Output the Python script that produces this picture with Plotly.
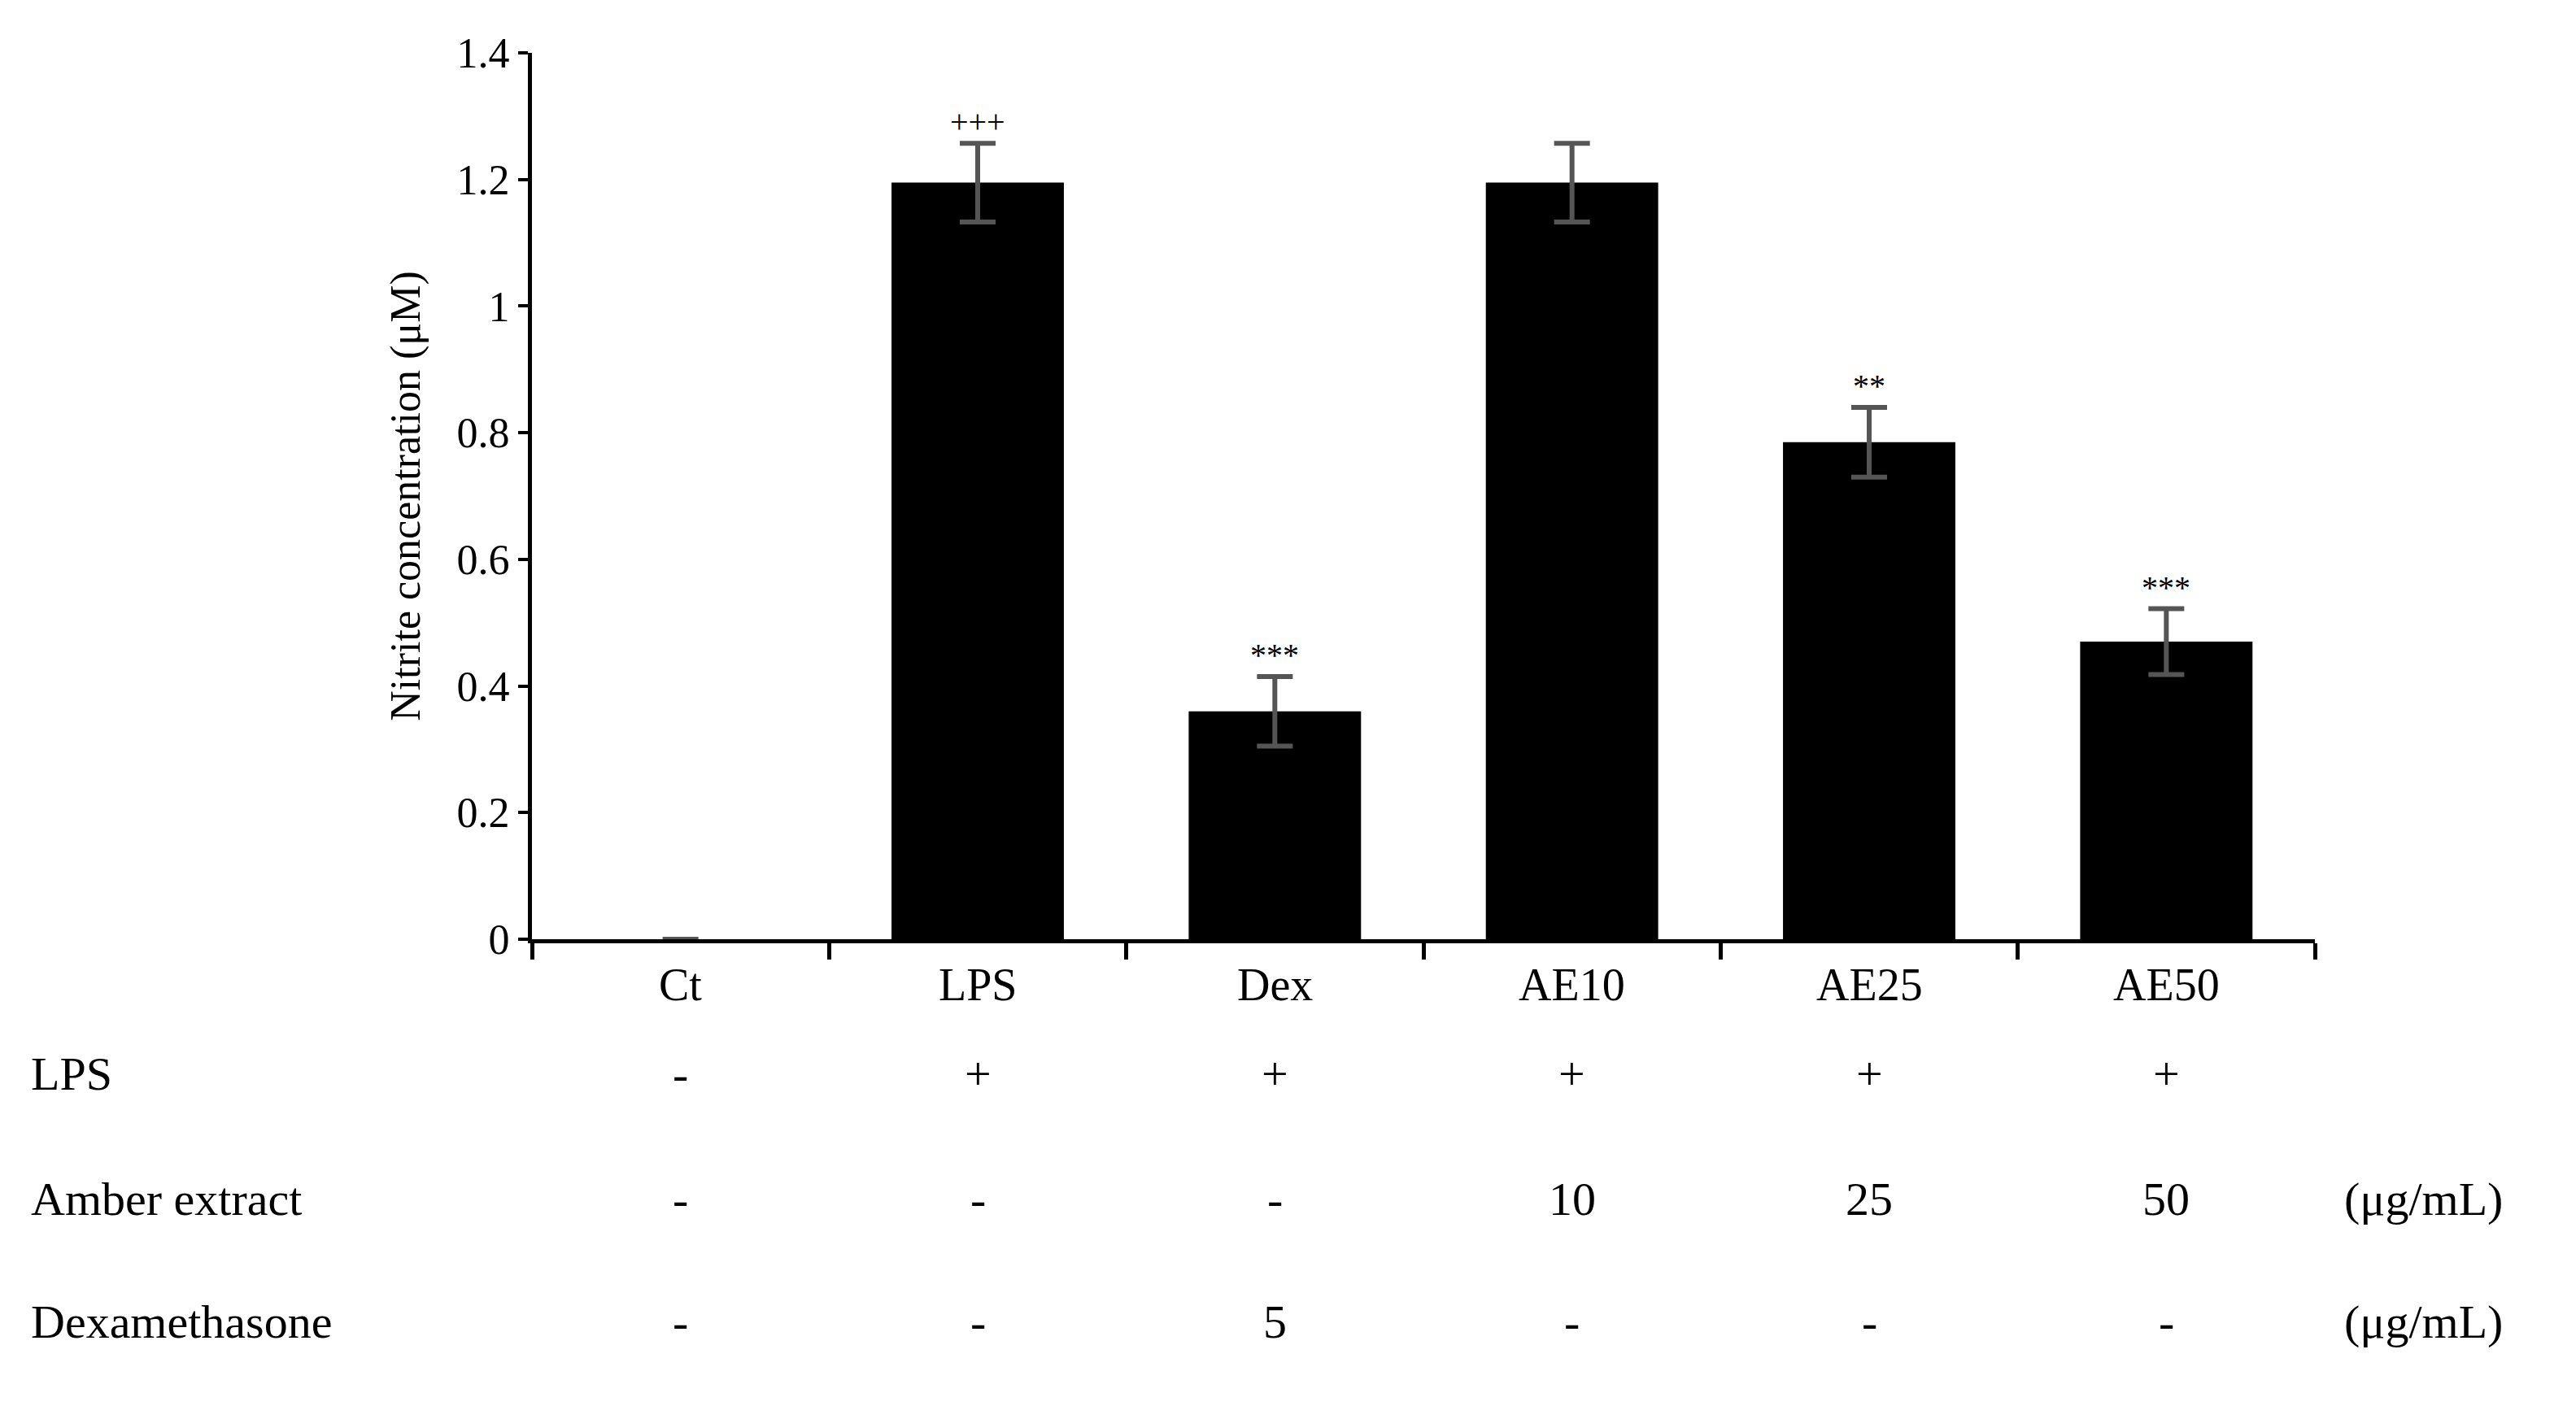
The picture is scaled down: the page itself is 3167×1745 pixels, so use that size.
import plotly.graph_objects as go

categories = ["Ct", "LPS", "Dex", "AE10", "AE25", "AE50"]
values = [0.0, 1.195, 0.36, 1.195, 0.785, 0.47]
errors = [0.0, 0.062, 0.055, 0.062, 0.055, 0.052]
sig = ["", "+++", "***", "", "**", "***"]
row_labels = ["LPS", "Amber extract", "Dexamethasone"]
row_lps = ["-", "+", "+", "+", "+", "+"]
row_amber = ["-", "-", "-", "10", "25", "50"]
row_dex = ["-", "-", "5", "-", "-", "-"]
units = ["", "(μg/mL)", "(μg/mL)"]

FONT = "Liberation Serif"
W, H = 3167, 1745
L, R, T, B = 646, 2838, 57, 1147

def py(Y):
    return (B - Y) / (B - T)

def px(X):
    return (X - L) / (R - L)

fig = go.Figure(go.Bar(
    x=categories, y=values, width=0.58, marker=dict(color="black", line=dict(width=0)),
    error_y=dict(type="data", array=errors, visible=True, color="#555555", thickness=6, width=22),
))

ann = []
for c, v, e, s in zip(categories, values, errors, sig):
    if s:
        ann.append(dict(x=c, y=v + e, xref="x", yref="y", text=s, showarrow=False,
                        yanchor="bottom", yshift=2, font=dict(family=FONT, size=40, color="black")))
    ann.append(dict(x=c, y=py(1236), xref="x", yref="paper", text=c, showarrow=False,
                    font=dict(family=FONT, size=56, color="black")))
for rowY, lab, vals, u in zip([1347, 1501, 1652], row_labels, [row_lps, row_amber, row_dex], units):
    ann.append(dict(x=px(28), y=py(rowY), xref="paper", yref="paper", text=lab, showarrow=False,
                    xanchor="left", font=dict(family=FONT, size=58, color="black")))
    for c, t in zip(categories, vals):
        ann.append(dict(x=c, y=py(rowY), xref="x", yref="paper", text=t, showarrow=False,
                        font=dict(family=FONT, size=58, color="black")))
    if u:
        ann.append(dict(x=px(2872), y=py(rowY), xref="paper", yref="paper", text=u, showarrow=False,
                        xanchor="left", font=dict(family=FONT, size=58, color="black")))

fig.update_layout(
    width=W, height=H, plot_bgcolor="white", paper_bgcolor="white",
    margin=dict(l=L, r=W - R, t=T, b=H - B, autoexpand=False),
    showlegend=False, annotations=ann,
    xaxis=dict(type="category", range=[-0.5, 5.5], showticklabels=False, tickson="boundaries",
               ticks="outside", ticklen=20, tickwidth=5, tickcolor="black",
               showline=True, linecolor="black", linewidth=5, showgrid=False),
    yaxis=dict(range=[0, 1.4], tickvals=[0, 0.2, 0.4, 0.6, 0.8, 1, 1.2, 1.4],
               ticktext=["0", "0.2", "0.4", "0.6", "0.8", "1", "1.2", "1.4"],
               ticks="outside", ticklen=12, tickwidth=4, tickcolor="black",
               showline=True, linecolor="black", linewidth=5, showgrid=False, zeroline=False,
               tickfont=dict(family=FONT, size=52, color="black"),
               title=dict(text="Nitrite concentration (μM)", standoff=30,
                          font=dict(family=FONT, size=52, color="black"))),
)
fig.write_html("out.html")
